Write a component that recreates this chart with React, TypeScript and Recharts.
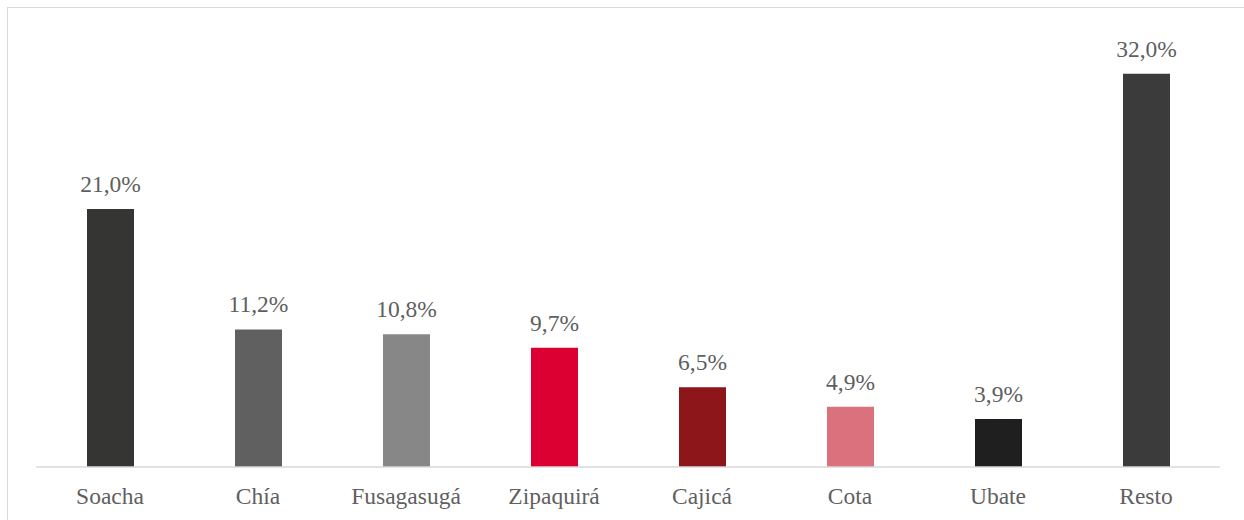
import { BarChart, Bar, XAxis, YAxis, Cell, LabelList } from "recharts"

// participación por municipio (%)
const municipios = ["Soacha", "Chía", "Fusagasugá", "Zipaquirá", "Cajicá", "Cota", "Ubate", "Resto"]
const participacion = [21.0, 11.2, 10.8, 9.7, 6.5, 4.9, 3.9, 32.0]
const colores = ["#353533", "#606060", "#878787", "#dc0032", "#8c161a", "#dc717e", "#1f1f1f", "#3b3b3b"]

const chartData = municipios.map((m, i) => ({ municipio: m, valor: participacion[i] }))

const fontFamily = "Liberation Serif, serif"
const textColor = "#5f5f5f"

const formatPct = (v: unknown) => `${Number(v).toFixed(1).replace(".", ",")}%`

export default function App() {
  return (
    <div>
      <style>{"body{margin:0;overflow:hidden} .chart text{font-family:'Liberation Serif',serif !important}"}</style>
      <div
        className="chart"
        style={{
          position: "absolute",
          left: 7,
          top: 7,
          width: 1250,
          height: 530,
          border: "1px solid #d9d9d9",
          background: "#fff",
          fontFamily,
        }}
      >
        <BarChart
          width={1250}
          height={530}
          data={chartData}
          margin={{ top: 29, right: 38, left: 28, bottom: 41 }}
        >
          <XAxis
            dataKey="municipio"
            axisLine={{ stroke: "#d9d9d9", strokeWidth: 1.5 }}
            tickLine={false}
            tickSize={0}
            tickMargin={20}
            height={30}
            interval={0}
            tick={{ fill: textColor, fontSize: 23.5, fontFamily }}
          />
          <YAxis hide domain={[0, 35]} />
          <Bar dataKey="valor" barSize={47} isAnimationActive={false}>
            {chartData.map((d, i) => (
              <Cell key={d.municipio} fill={colores[i]} />
            ))}
            <LabelList
              dataKey="valor"
              position="top"
              offset={17}
              formatter={formatPct}
              style={{ fill: textColor, fontSize: 23.5, fontFamily }}
            />
          </Bar>
        </BarChart>
      </div>
    </div>
  )
}
